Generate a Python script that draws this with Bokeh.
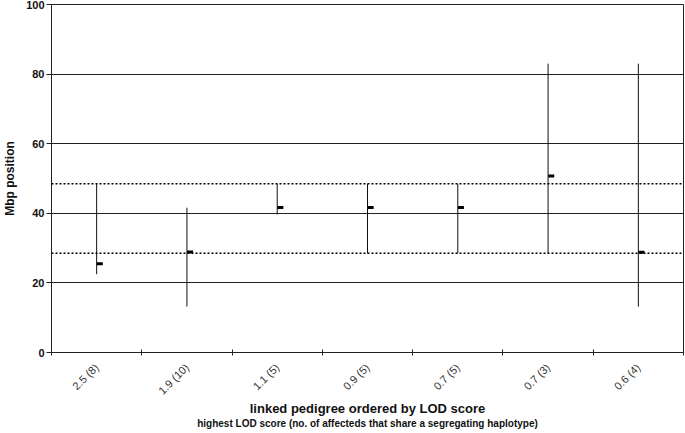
import math
from bokeh.plotting import figure
from bokeh.models import Range1d, FixedTicker, Span, Title, ColumnDataSource
from bokeh.embed import file_html
from bokeh.resources import INLINE

categories = ["2.5 (8)", "1.9 (10)", "1.1 (5)", "0.9 (5)", "0.7 (5)", "0.7 (3)", "0.6 (4)"]
interval_low = [22.5, 13.2, 39.7, 28.5, 28.5, 28.5, 13.2]
interval_high = [48.5, 41.6, 48.5, 48.5, 48.5, 83.0, 83.0]
peak_pos = [25.5, 28.9, 41.7, 41.7, 41.7, 50.7, 28.8]
ref_lines = [48.5, 28.5]
y_ticks = [0, 20, 40, 60, 80, 100]
x_title = "linked pedigree ordered by LOD score"
x_subtitle = "highest LOD score (no. of affecteds that share a segregating haplotype)"

FONT = "Liberation Sans"
n = len(categories)
centers = [i + 0.5 for i in range(n)]
bounds = list(range(n + 1))

p = figure(width=685, height=433, x_range=Range1d(0, n), y_range=Range1d(0, 100),
           output_backend="svg", toolbar_location=None,
           min_border_top=4, min_border_right=2, min_border_left=0, min_border_bottom=81)
p.background_fill_color = "white"
p.border_fill_color = "white"
p.outline_line_color = "#222222"
p.outline_line_width = 1

# grid
p.xgrid.visible = False
p.ygrid.ticker = FixedTicker(ticks=y_ticks)
p.ygrid.grid_line_color = "#222222"
p.ygrid.grid_line_width = 1

# x axis: labels at category centres, tick marks at category boundaries
xa = p.xaxis[0]
xa.ticker = FixedTicker(ticks=centers, minor_ticks=bounds)
xa.major_label_overrides = {c: lab for c, lab in zip(centers, categories)}
xa.major_tick_in = 0
xa.major_tick_out = 0
xa.minor_tick_in = 3
xa.minor_tick_out = 3
xa.minor_tick_line_color = "#222222"
xa.axis_line_color = "#222222"
xa.major_label_orientation = math.pi / 4
xa.major_label_standoff = 10
xa.major_label_text_font = FONT
xa.major_label_text_font_size = "11px"
xa.major_label_text_color = "#333333"
xa.axis_label = x_title
xa.axis_label_text_font = FONT
xa.axis_label_text_font_size = "13px"
xa.axis_label_text_font_style = "bold"
xa.axis_label_text_color = "#111111"
xa.axis_label_standoff = -3

# y axis
ya = p.yaxis[0]
ya.ticker = FixedTicker(ticks=y_ticks)
ya.major_tick_in = 0
ya.major_tick_out = 5
ya.minor_tick_line_color = None
ya.axis_line_color = "#222222"
ya.major_tick_line_color = "#222222"
ya.major_label_text_font = FONT
ya.major_label_text_font_size = "11px"
ya.major_label_text_font_style = "bold"
ya.major_label_text_color = "#111111"
ya.major_label_standoff = 2
ya.axis_label = "Mbp position"
ya.axis_label_text_font = FONT
ya.axis_label_text_font_size = "12px"
ya.axis_label_text_font_style = "bold"
ya.axis_label_text_color = "#111111"
ya.axis_label_standoff = 6

# reference dotted lines
for v in ref_lines:
    p.add_layout(Span(location=v, dimension="width", line_color="black",
                      line_width=1.5, line_dash="2 2"))

src = ColumnDataSource(dict(x=centers, lo=interval_low, hi=interval_high, pk=peak_pos,
                            xm=[c + 0.035 for c in centers]))
p.segment(x0="x", y0="lo", x1="x", y1="hi", source=src, line_color="#111111", line_width=1)
p.rect(x="xm", y="pk", width=6, height=3, width_units="screen", height_units="screen",
       source=src, fill_color="black", line_color=None)

sub = Title(text=x_subtitle, align="center", text_font=FONT, text_font_size="10px",
            text_font_style="bold", text_color="#111111", standoff=-5, offset=0)
p.add_layout(sub, "below")

open("out.html", "w").write(file_html(p, INLINE))
